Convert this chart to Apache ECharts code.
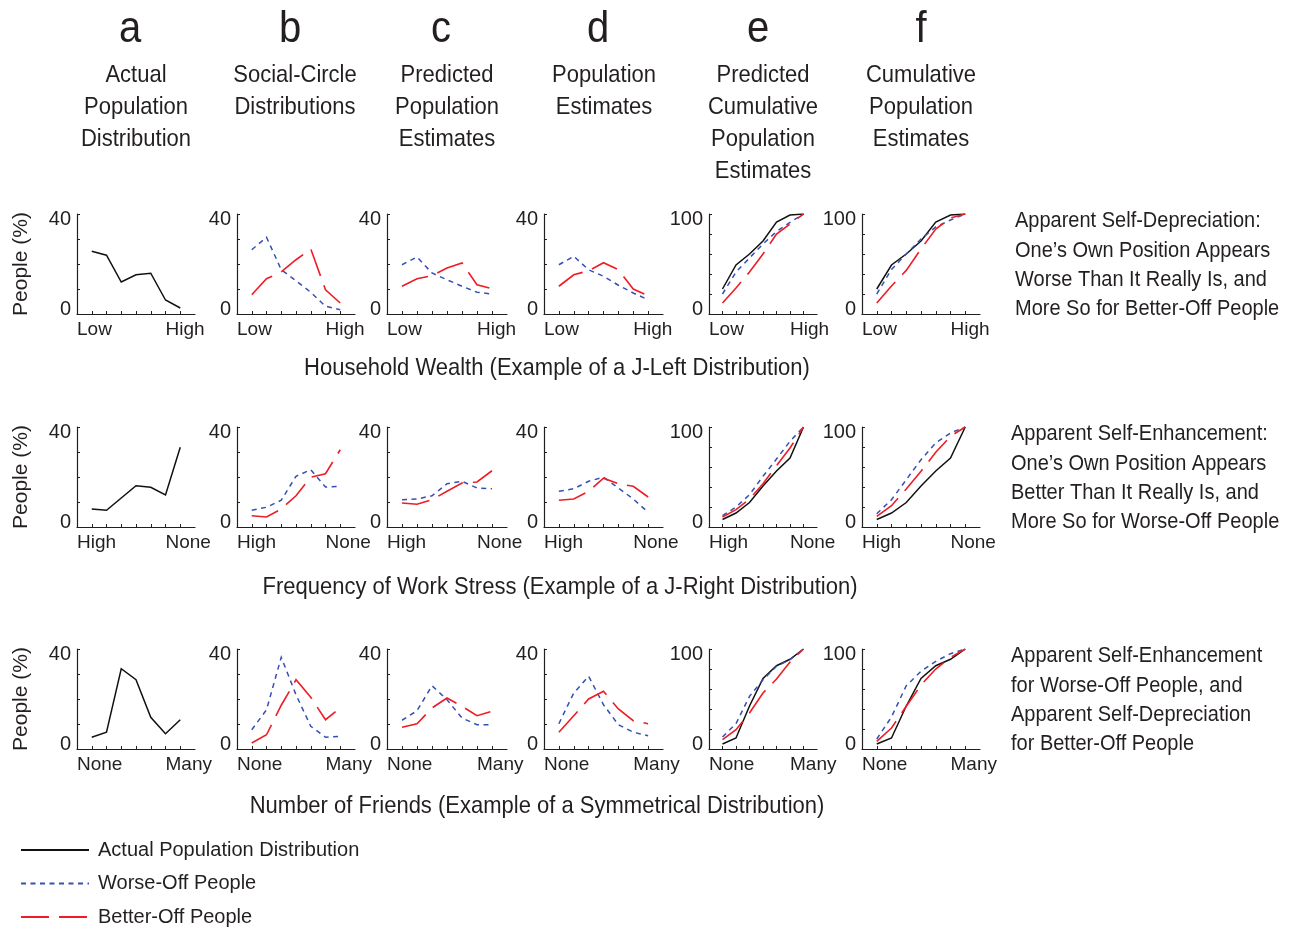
<!DOCTYPE html>
<html><head><meta charset="utf-8">
<script src="https://cdn.jsdelivr.net/npm/echarts@6/dist/echarts.min.js"></script>
<style>html,body{margin:0;padding:0;background:#fff}#main{width:1289px;height:928px}</style>
</head><body><div id="main"></div>
<script>
// ---------- text ----------
const panelLetters = ['a', 'b', 'c', 'd', 'e', 'f'];
const panelTitles = [
  ['Actual', 'Population', 'Distribution'],
  ['Social-Circle', 'Distributions'],
  ['Predicted', 'Population', 'Estimates'],
  ['Population', 'Estimates'],
  ['Predicted', 'Cumulative', 'Population', 'Estimates'],
  ['Cumulative', 'Population', 'Estimates']
];
const rowTitles = [
  'Household Wealth (Example of a J-Left Distribution)',
  'Frequency of Work Stress (Example of a J-Right Distribution)',
  'Number of Friends (Example of a Symmetrical Distribution)'
];
const xEndLabels = [['Low', 'High'], ['High', 'None'], ['None', 'Many']];
const rowNotes = [
  ['Apparent Self-Depreciation:', 'One\u2019s Own Position Appears', 'Worse Than It Really Is, and', 'More So for Better-Off People'],
  ['Apparent Self-Enhancement:', 'One\u2019s Own Position Appears', 'Better Than It Really Is, and', 'More So for Worse-Off People'],
  ['Apparent Self-Enhancement', 'for Worse-Off People, and', 'Apparent Self-Depreciation', 'for Better-Off People']
];
const yAxisTitle = 'People (%)';
const seriesNames = ['Actual Population Distribution', 'Worse-Off People', 'Better-Off People'];
const yMaxByCol = [40, 40, 40, 40, 100, 100];

// ---------- data (7 ordered categories each) ----------
// Row 1: Household wealth
const wealthActual        = [25.1, 23.5, 12.8, 15.7, 16.3, 5.6, 2.4];
const wealthSocialWorse   = [25.7, 30.7, 17.7, 13.3, 8.7, 3.1, 1.7];
const wealthSocialBetter  = [7.7, 14.1, 16.8, 21.7, 26.0, 9.7, 4.4];
const wealthPredWorse     = [19.7, 22.8, 16.4, 13.7, 11.1, 8.7, 8.0];
const wealthPredBetter    = [11.1, 14.1, 15.3, 18.4, 20.4, 11.7, 10.1];
const wealthEstWorse      = [19.7, 23.1, 17.7, 15.1, 11.5, 8.4, 5.7];
const wealthEstBetter     = [11.1, 15.7, 17.3, 20.5, 17.7, 10.0, 7.3];
const wealthCumActual     = [25, 49, 60, 73, 92, 99, 100];
const wealthCumPredWorse  = [20, 42, 56, 70, 82.5, 91.6, 100];
const wealthCumPredBetter = [11, 26, 42, 60, 80, 90, 100];
const wealthCumEstWorse   = [20, 44.6, 60, 75, 87, 94, 100];
const wealthCumEstBetter  = [11, 28, 43.6, 65, 85, 96, 100];
// Row 2: Frequency of work stress
const stressActual        = [7.2, 6.7, 11.6, 16.5, 15.9, 12.8, 31.9];
const stressSocialWorse   = [6.7, 7.9, 10.7, 20.3, 22.9, 16.0, 16.3];
const stressSocialBetter  = [4.5, 4.0, 7.2, 12.5, 19.9, 21.3, 30.9];
const stressPredWorse     = [10.9, 11.2, 12.5, 17.3, 18.3, 15.6, 15.3];
const stressPredBetter    = [9.6, 9.1, 10.9, 14.3, 17.6, 18.0, 22.5];
const stressEstWorse      = [14.3, 15.3, 18.3, 19.9, 15.6, 11.2, 5.9];
const stressEstBetter     = [10.7, 11.2, 14.3, 19.5, 17.3, 16.3, 12.0];
const stressCumActual     = [7.5, 14, 24.5, 41, 56, 69, 100];
const stressCumPredWorse  = [11.3, 20, 32.3, 50.7, 68, 85.7, 100];
const stressCumPredBetter = [10, 17.3, 28, 43.3, 61.3, 79, 100];
const stressCumEstWorse   = [13.3, 27.3, 47.3, 67.3, 84, 94, 100];
const stressCumEstBetter  = [10.7, 21.3, 38, 55.7, 74.7, 90.7, 100];
// Row 3: Number of friends
const friendsActual        = [4.7, 6.7, 32.1, 27.7, 12.7, 6.1, 11.7];
const friendsSocialWorse   = [7.7, 15.7, 36.7, 21.7, 9.1, 4.7, 5.1];
const friendsSocialBetter  = [2.4, 5.7, 17.5, 27.7, 20.7, 11.7, 16.4];
const friendsPredWorse     = [11.5, 15.3, 25.3, 19.7, 12.4, 9.7, 9.7];
const friendsPredBetter    = [8.7, 10.1, 16.4, 20.4, 17.1, 13.3, 15.1];
const friendsEstWorse      = [10.1, 22.4, 29.1, 17.7, 9.7, 6.7, 5.3];
const friendsEstBetter     = [6.7, 13.3, 20.0, 23.1, 16.0, 11.3, 10.1];
const friendsCumActual     = [5, 11, 43, 70.5, 83.3, 89.7, 100];
const friendsCumPredWorse  = [12, 25.3, 52.7, 69.3, 82.7, 89.3, 100];
const friendsCumPredBetter = [9.3, 19.3, 36, 56, 70, 87, 100];
const friendsCumEstWorse   = [10, 32, 63.3, 77.7, 87.7, 95.3, 100];
const friendsCumEstBetter  = [7.7, 21, 42.7, 64, 80, 91.6, 100];

// panels: [row][col] -> list of [kind, values]
const panels = [
  [[['actual', wealthActual]], [['worse', wealthSocialWorse], ['better', wealthSocialBetter]],
   [['worse', wealthPredWorse], ['better', wealthPredBetter]], [['worse', wealthEstWorse], ['better', wealthEstBetter]],
   [['actual', wealthCumActual], ['worse', wealthCumPredWorse], ['better', wealthCumPredBetter]],
   [['actual', wealthCumActual], ['worse', wealthCumEstWorse], ['better', wealthCumEstBetter]]],
  [[['actual', stressActual]], [['worse', stressSocialWorse], ['better', stressSocialBetter]],
   [['worse', stressPredWorse], ['better', stressPredBetter]], [['worse', stressEstWorse], ['better', stressEstBetter]],
   [['actual', stressCumActual], ['worse', stressCumPredWorse], ['better', stressCumPredBetter]],
   [['actual', stressCumActual], ['worse', stressCumEstWorse], ['better', stressCumEstBetter]]],
  [[['actual', friendsActual]], [['worse', friendsSocialWorse], ['better', friendsSocialBetter]],
   [['worse', friendsPredWorse], ['better', friendsPredBetter]], [['worse', friendsEstWorse], ['better', friendsEstBetter]],
   [['actual', friendsCumActual], ['worse', friendsCumPredWorse], ['better', friendsCumPredBetter]],
   [['actual', friendsCumActual], ['worse', friendsCumEstWorse], ['better', friendsCumEstBetter]]]
];

// ---------- layout & style ----------
const FONT = '"Liberation Sans", Arial, Helvetica, sans-serif';
const INK = '#231f20';
const rowTops = [214, 427, 649];
const rowH = 100;
const colLefts = [77, 237, 387, 544, 709, 862];
const colWidths = [118, 118, 120, 119, 108, 118];
const styles = {
  actual: { name: seriesNames[0], color: '#111111', width: 1.5, type: 'solid' },
  worse:  { name: seriesNames[1], color: '#3550b4', width: 1.5, type: [5, 4.5] },
  better: { name: seriesNames[2], color: '#ee1d25', width: 1.6, type: [28, 10] }
};

const grids = [], xAxes = [], yAxes = [], series = [];
let gi = 0;
for (let r = 0; r < 3; r++) {
  for (let c = 0; c < 6; c++) {
    grids.push({ left: colLefts[c], top: rowTops[r], width: colWidths[c], height: rowH });
    const labels = xEndLabels[r];
    xAxes.push({
      gridIndex: gi, type: 'value', min: 0, max: 8, interval: 1,
      axisLine: { show: true, lineStyle: { color: INK, width: 1.2 } },
      axisTick: { show: true, inside: true, length: 3, lineStyle: { color: INK, width: 1 }, customValues: [1, 2, 3, 4, 5, 6, 7] },
      splitLine: { show: false },
      axisLabel: {
        customValues: [0, 6],
        formatter: v => (v === 0 ? labels[0] : (v === 6 ? labels[1] : '')),
        align: 'left', fontSize: 19, fontFamily: FONT, color: INK, margin: 6
      }
    });
    const ymax = yMaxByCol[c];
    yAxes.push({
      gridIndex: gi, type: 'value', min: 0, max: ymax, interval: ymax === 40 ? 10 : 20,
      name: c === 0 ? yAxisTitle : '', nameLocation: 'middle', nameGap: 45, nameRotate: 90,
      nameTextStyle: { fontSize: 21, fontFamily: FONT, color: INK },
      axisLine: { show: true, lineStyle: { color: INK, width: 1.2 } },
      axisTick: { show: true, inside: true, length: 3, lineStyle: { color: INK, width: 1 } },
      splitLine: { show: false },
      axisLabel: {
        customValues: [0, ymax],
        formatter: v => (v === ymax ? '{t|' + v + '}' : (v === 0 ? '{b|0}' : '')),
        fontSize: 20, fontFamily: FONT, color: INK, margin: 6,
        rich: {
          t: { fontSize: 20, fontFamily: FONT, color: INK, padding: [10, 0, 0, 0] },
          b: { fontSize: 20, fontFamily: FONT, color: INK, padding: [0, 0, 10, 0] }
        }
      }
    });
    for (const [kind, vals] of panels[r][c]) {
      const s = styles[kind];
      series.push({
        type: 'line', name: s.name, xAxisIndex: gi, yAxisIndex: gi,
        data: vals.map((v, i) => [i + 1, v]),
        symbol: 'none', silent: true, animation: false,
        lineStyle: { color: s.color, width: s.width, type: s.type, cap: 'butt', join: 'miter' },
        itemStyle: { color: s.color }
      });
    }
    gi++;
  }
}

// ---------- text graphics ----------
const graphics = [];
function txt(x, y, text, size, align, sy) {
  graphics.push({ type: 'text', x: x, y: y, scaleY: sy || 1.1, silent: true,
    style: { text: text, font: size + 'px ' + FONT, fill: INK, textAlign: align, textVerticalAlign: 'middle' } });
}
const letterX = [130, 290, 441, 598, 758, 921];
const titleX = [136, 295, 447, 604, 763, 921];
const titleLineY = [75, 107, 139, 171];
for (let c = 0; c < 6; c++) {
  txt(letterX[c], 30, panelLetters[c], 40, 'center', 1.12);
  panelTitles[c].forEach((line, k) => txt(titleX[c], titleLineY[k], line, 22, 'center', 1.1));
}
const rowTitleX = [557, 560, 537];
const rowTitleY = [368, 587, 806];
rowTitles.forEach((t, r) => txt(rowTitleX[r], rowTitleY[r], t, 22, 'center', 1.1));
const noteX = [1015, 1011, 1011];
const noteY0 = [221, 434, 656];
rowNotes.forEach((lines, r) => {
  lines.forEach((line, k) => txt(noteX[r], noteY0[r] + k * 29.4, line, 20, 'left', 1.12));
});

const chart = echarts.init(document.getElementById('main'), null, { renderer: 'canvas' });
chart.setOption({
  animation: false,
  backgroundColor: '#ffffff',
  grid: grids, xAxis: xAxes, yAxis: yAxes, series: series,
  legend: {
    data: seriesNames, orient: 'vertical', left: 20, top: 840, height: 88, padding: 0,
    itemWidth: 68, itemHeight: 14, itemGap: 13.5, selectedMode: false,
    itemStyle: { opacity: 0 },
    textStyle: { fontSize: 20, lineHeight: 20, fontFamily: FONT, color: INK, padding: [0, 0, 0, 4] }
  },
  graphic: graphics
});
</script></body></html>
